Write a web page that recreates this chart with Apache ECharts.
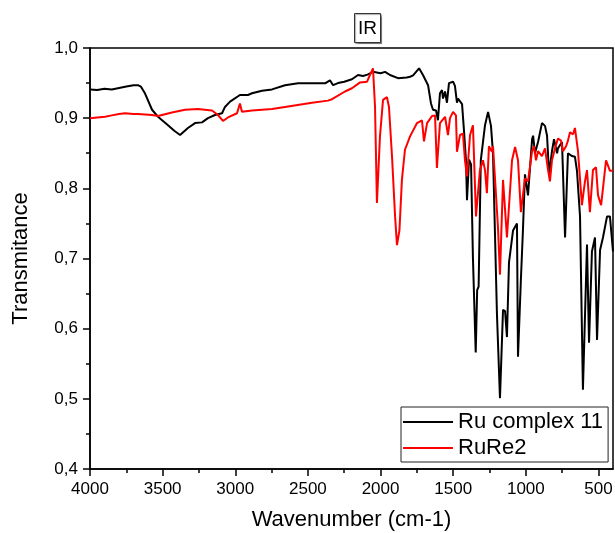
<!DOCTYPE html>
<html><head><meta charset="utf-8">
<script src="https://cdn.jsdelivr.net/npm/echarts@6/dist/echarts.min.js"></script>
<style>html,body{margin:0;padding:0;background:#fff}#c{width:615px;height:533px}</style>
</head><body><div id="c"></div>
<script>
const chartTitle = 'IR';
const xName = 'Wavenumber (cm-1)';
const yName = 'Transmitance';
const seriesNames = ['Ru complex 11', 'RuRe2'];
const xMajorTicks = [500,1000,1500,2000,2500,3000,3500,4000];
const xMinorTicks = [750,1250,1750,2250,2750,3250,3750];

const blackWn = [4000,3950,3900,3850,3800,3750,3700,3670,3650,3621,3573,3532,3463,3420,3380,3326,3277,3229,3188,3140,3091,3071,3036,2968,2913,2885,2816,2747,2658,2568,2382,2348,2327,2293,2250,2197,2155,2121,2090,2052,2000,1969,1935,1880,1820,1797,1776,1735,1708,1673,1653,1639,1618,1605,1591,1577,1570,1556,1543,1529,1501,1488,1474,1467,1439,1426,1412,1405,1391,1377,1364,1345,1335,1325,1310,1281,1260,1240,1226,1199,1178,1157,1143,1130,1116,1088,1061,1054,1034,1020,1006,985,957,950,937,916,889,868,854,840,820,806,785,779,751,730,717,710,682,662,648,627,607,579,565,545,524,510,489,469,441,421,400];
const blackT = [0.941,0.940,0.942,0.941,0.943,0.945,0.947,0.947,0.945,0.935,0.912,0.902,0.890,0.882,0.876,0.886,0.893,0.894,0.900,0.9045,0.907,0.916,0.9235,0.933,0.933,0.9355,0.939,0.941,0.947,0.9497,0.9497,0.954,0.947,0.950,0.952,0.9554,0.9615,0.960,0.962,0.966,0.964,0.966,0.9615,0.957,0.958,0.959,0.961,0.971,0.9615,0.947,0.921,0.912,0.911,0.897,0.9355,0.940,0.928,0.938,0.922,0.950,0.952,0.946,0.922,0.928,0.920,0.883,0.840,0.783,0.841,0.834,0.700,0.566,0.655,0.660,0.840,0.890,0.909,0.889,0.850,0.622,0.501,0.627,0.625,0.588,0.694,0.740,0.750,0.560,0.670,0.740,0.820,0.790,0.870,0.875,0.850,0.866,0.893,0.889,0.875,0.820,0.853,0.870,0.850,0.857,0.866,0.730,0.810,0.850,0.846,0.845,0.825,0.760,0.513,0.720,0.580,0.710,0.730,0.584,0.712,0.730,0.760,0.760,0.710];

const redWn = [4000,3950,3897,3850,3800,3759,3700,3670,3573,3532,3436,3346,3257,3160,3119,3085,3050,2988,2968,2954,2885,2747,2658,2472,2362,2334,2245,2197,2141,2093,2073,2052,2038,2025,2004,1983,1956,1942,1921,1900,1887,1870,1853,1832,1797,1749,1715,1701,1680,1646,1625,1612,1591,1556,1536,1522,1501,1481,1474,1453,1433,1419,1405,1384,1364,1343,1316,1295,1281,1268,1254,1233,1226,1206,1192,1178,1157,1130,1095,1074,1054,1034,1006,985,957,944,930,916,889,868,847,834,820,799,779,758,744,723,710,696,675,662,641,614,593,579,559,538,517,503,482,469,448,421,400];
const redT = [0.900,0.901,0.902,0.904,0.906,0.907,0.906,0.906,0.9045,0.903,0.908,0.912,0.913,0.911,0.9045,0.896,0.901,0.907,0.921,0.909,0.911,0.913,0.916,0.922,0.925,0.927,0.938,0.9426,0.951,0.952,0.9615,0.971,0.916,0.779,0.874,0.926,0.930,0.916,0.845,0.760,0.719,0.740,0.812,0.855,0.874,0.893,0.897,0.867,0.893,0.903,0.904,0.829,0.893,0.902,0.876,0.900,0.909,0.904,0.852,0.876,0.878,0.840,0.817,0.876,0.890,0.760,0.826,0.840,0.826,0.793,0.860,0.852,0.860,0.793,0.745,0.677,0.812,0.730,0.840,0.859,0.840,0.766,0.814,0.810,0.853,0.860,0.840,0.853,0.846,0.857,0.826,0.810,0.840,0.857,0.871,0.868,0.853,0.860,0.868,0.880,0.877,0.886,0.853,0.776,0.810,0.826,0.766,0.826,0.830,0.790,0.776,0.800,0.840,0.825,0.825];

const FONT = '"Liberation Sans", Arial, sans-serif';
const zip = (a, b) => a.map((v, i) => [v, b[i]]);

const chart = echarts.init(document.getElementById('c'), null, {renderer: 'canvas'});
chart.setOption({
  backgroundColor: '#fff',
  animation: false,
  title: {
    text: chartTitle, left: 354, top: 13,
    padding: [6, 4, 5, 4],
    borderColor: '#333', borderWidth: 1, backgroundColor: '#fff',
    shadowColor: 'rgba(0,0,0,0.35)', shadowOffsetX: 1, shadowOffsetY: 1, shadowBlur: 1,
    textStyle: {fontFamily: FONT, fontSize: 19, fontWeight: 'normal', color: '#000'}
  },
  legend: {
    orient: 'vertical', left: 401, top: 407,
    padding: [4, 5, 3, 2], itemGap: 4,
    itemWidth: 50, itemHeight: 2, icon: 'rect',
    borderColor: '#222', borderWidth: 1, backgroundColor: '#fff',
    textStyle: {fontFamily: FONT, fontSize: 22, color: '#000'},
    data: seriesNames
  },
  grid: {left: 90, right: 2, top: 48, bottom: 64, show: true, borderColor: '#000', borderWidth: 1.5,
    backgroundColor: 'transparent', containLabel: false, outerBoundsMode: 'none'},
  xAxis: [{
    type: 'value', inverse: true, min: 400, max: 4000,
    name: xName, nameLocation: 'middle', nameGap: 40,
    nameTextStyle: {fontFamily: FONT, fontSize: 22, color: '#000'},
    axisLine: {show: true, lineStyle: {color: '#000', width: 1.5}},
    axisTick: {show: true, length: 7, lineStyle: {color: '#000', width: 1.5}, customValues: xMajorTicks},
    axisLabel: {fontFamily: FONT, fontSize: 17, color: '#000', margin: 12, customValues: xMajorTicks,
      formatter: v => String(v), hideOverlap: false},
    splitLine: {show: false}
  }, {
    type: 'value', inverse: true, min: 400, max: 4000, position: 'bottom',
    axisLine: {show: false},
    axisTick: {show: true, length: 4, lineStyle: {color: '#000', width: 1.5}, customValues: xMinorTicks},
    axisLabel: {show: false}, splitLine: {show: false}
  }],
  yAxis: {
    type: 'value', min: 0.4, max: 1.0, interval: 0.1,
    name: yName, nameLocation: 'middle', nameGap: 58, nameRotate: 90,
    nameTextStyle: {fontFamily: FONT, fontSize: 22, color: '#000'},
    axisLine: {show: true, lineStyle: {color: '#000', width: 1.5}},
    axisTick: {show: true, length: 7, lineStyle: {color: '#000', width: 1.5}},
    minorTick: {show: true, splitNumber: 2, length: 4, lineStyle: {color: '#000', width: 1.5}},
    axisLabel: {fontFamily: FONT, fontSize: 17, color: '#000', margin: 12,
      formatter: v => v.toFixed(1).replace('.', ',')},
    splitLine: {show: false}
  },
  series: [{
    name: seriesNames[0], type: 'line', xAxisIndex: 0, symbol: 'none',
    lineStyle: {color: '#000', width: 2}, itemStyle: {color: '#000'},
    data: zip(blackWn, blackT), z: 3
  }, {
    name: seriesNames[1], type: 'line', xAxisIndex: 0, symbol: 'none',
    lineStyle: {color: '#ff0000', width: 2}, itemStyle: {color: '#ff0000'},
    data: zip(redWn, redT), z: 4
  }]
});
</script></body></html>
